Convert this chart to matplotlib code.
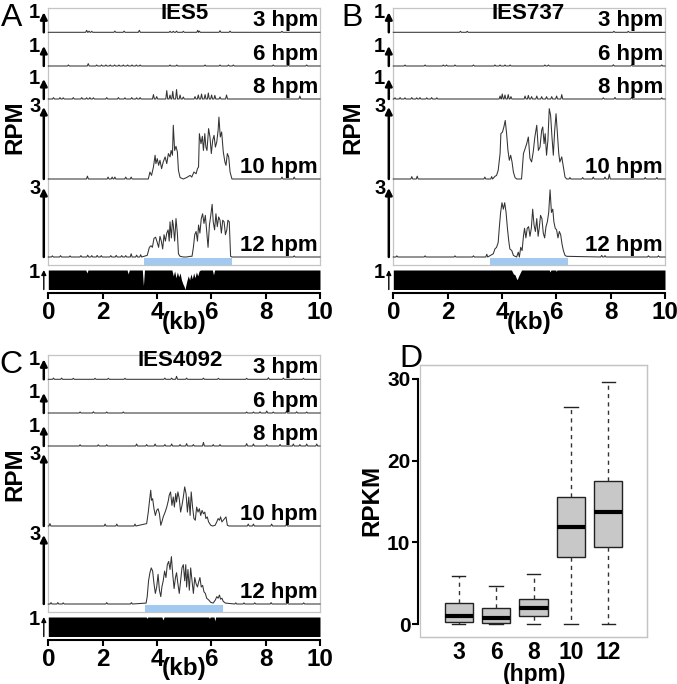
import matplotlib
matplotlib.use('Agg')
import matplotlib.pyplot as plt
from matplotlib.patches import Rectangle

plt.rcParams['font.family'] = ['Liberation Sans', 'DejaVu Sans']

# ---------------- data ----------------
TIMEPOINTS = ['3 hpm', '6 hpm', '8 hpm', '10 hpm', '12 hpm']
SCALE_VALUES = [1, 1, 1, 3, 3]
KB_TICKS = [0, 2, 4, 6, 8, 10]

# ---- IES5 (panel A) ----
A_name = 'IES5'
A_bar = (3.53, 6.75)
A10_x = [3.68, 3.74, 3.80, 3.87, 3.93, 3.96, 4.01, 4.06, 4.11, 4.17, 4.23, 4.30, 4.36, 4.42, 4.48,
         4.52, 4.57, 4.60, 4.65, 4.70, 4.75, 4.79, 4.85, 4.97, 5.09, 5.22, 5.28, 5.36, 5.44, 5.49,
         5.53, 5.56, 5.62, 5.67, 5.71, 5.76, 5.80, 5.84, 5.90, 5.95, 6.00, 6.05, 6.10, 6.15, 6.20,
         6.25, 6.28, 6.33, 6.38, 6.44, 6.50, 6.54, 6.59, 6.64, 6.69, 6.76]
A10_y = [0, 0.29, 0.15, 0.50, 0.99, 0.64, 0.85, 0.57, 0.78, 0.43, 0.71, 0.92, 0.64, 1.06, 0.92,
         1.19, 0.99, 2.24, 1.19, 1.36, 1.13, 0.36, 0.06, 0, 0.06, 0.15, 0.08, 0.29, 0.22, 0.43,
         0.50, 1.89, 1.47, 1.78, 1.19, 1.89, 1.33, 1.19, 2.10, 1.75, 1.06, 1.61, 1.82, 1.33, 1.54,
         2.03, 2.58, 1.75, 1.96, 1.13, 0.71, 0.57, 1.06, 0.92, 0.29, 0]
A12_x = [3.64, 3.72, 3.78, 3.83, 3.89, 3.95, 4.01, 4.06, 4.11, 4.16, 4.21, 4.26, 4.31, 4.36, 4.41,
         4.45, 4.48, 4.53, 4.57, 4.60, 4.65, 4.70, 4.75, 4.79, 4.85, 4.97, 5.09, 5.22, 5.29, 5.34,
         5.39, 5.44, 5.49, 5.53, 5.58, 5.63, 5.68, 5.73, 5.78, 5.83, 5.88, 5.93, 5.98, 6.03, 6.07,
         6.12, 6.17, 6.22, 6.27, 6.32, 6.37, 6.42, 6.47, 6.52, 6.57, 6.61, 6.66, 6.71, 6.76]
A12_y = [0.07, 0.42, 0.49, 0.42, 0.81, 0.86, 0.63, 0.42, 0.90, 0.69, 0.35, 0.97, 0.69, 1.04, 1.18,
         0.69, 1.53, 0.83, 1.60, 1.39, 0.69, 1.67, 1.04, 0.14, 0.03, 0, 0, 0.03, 0.03, 0.42,
         0.97, 1.11, 0.69, 1.39, 1.04, 1.67, 1.88, 1.46, 1.81, 1.11, 0.42, 1.39, 1.81, 2.29, 1.53,
         1.18, 1.88, 1.32, 1.74, 1.60, 1.04, 1.60, 1.53, 0.97, 1.18, 1.60, 1.53, 0.03, 0]
A3_sx = [1.41, 1.50, 1.60, 2.45, 2.79, 3.35, 4.48, 4.60, 4.72, 4.97, 5.50, 5.56, 6.32, 6.69, 8.60]
A3_sh = [0.10, 0.06, 0.05, 0.06, 0.06, 0.10, 0.05, 0.05, 0.06, 0.05, 0.10, 0.06, 0.08, 0.06, 0.05]
A6_sx = [0.74, 1.47, 1.78, 1.96, 2.12, 2.28, 2.44, 2.60, 2.76, 2.92, 3.08, 3.24, 3.38, 4.48, 4.73,
         5.77, 6.32, 6.63, 6.81, 8.28, 8.83, 9.51]
A6_sh = [0.05, 0.12, 0.05, 0.05, 0.05, 0.05, 0.05, 0.05, 0.05, 0.05, 0.05, 0.05, 0.05, 0.05, 0.05,
         0.05, 0.05, 0.05, 0.05, 0.05, 0.05, 0.05]
A8_sx = [0.19, 0.43, 0.55, 0.92, 1.23, 1.41, 1.53, 1.66, 2.15, 2.58, 2.82, 3.07, 3.25, 3.38, 3.87,
         3.99, 4.36, 4.48, 4.58, 4.72, 4.85, 4.97, 5.40, 5.52, 5.64, 5.77, 5.89, 6.01, 6.13, 6.32,
         6.56, 9.26]
A8_sh = [0.07, 0.07, 0.06, 0.07, 0.07, 0.06, 0.07, 0.06, 0.07, 0.07, 0.06, 0.07, 0.06, 0.07, 0.22,
         0.12, 0.42, 0.20, 0.38, 0.47, 0.20, 0.10, 0.12, 0.20, 0.25, 0.22, 0.30, 0.20, 0.18, 0.10,
         0.20, 0.15]
A10_sx = [1.44, 2.20, 2.35, 2.45, 2.85, 3.05, 8.60, 9.05]
A10_sh = [0.12, 0.08, 0.08, 0.08, 0.08, 0.08, 0.08, 0.08]
A12_sx = [0.15, 0.45, 0.80, 1.20, 1.45, 1.60, 1.80, 1.95, 2.30, 2.50, 2.70, 2.85, 3.05, 3.25, 3.40, 9.05]
A12_sh = [0.05, 0.06, 0.05, 0.06, 0.08, 0.06, 0.07, 0.06, 0.06, 0.07, 0.06, 0.06, 0.14, 0.08, 0.10, 0.05]
A_map_x = [0, 1.38, 1.42, 1.46, 2.90, 2.94, 2.98, 3.46, 3.50, 3.54, 4.55, 4.60, 4.65, 4.70, 4.75,
           4.80, 4.85, 4.90, 4.95, 5.00, 5.03, 5.06, 5.10, 5.15, 5.20, 5.25, 5.30, 5.35, 5.40, 5.45,
           5.50, 5.55, 5.60, 6.04, 6.08, 6.12, 10]
A_map_y = [1, 1, 0.85, 1, 1, 0.80, 1, 1, 0.20, 1, 1, 0.70, 0.95, 0.60, 0.90,
           0.65, 0.85, 0.50, 0.30, 0.15, 0, 0.20, 0.45, 0.70, 0.50, 0.80, 0.55, 0.85, 0.60, 0.90,
           0.70, 0.95, 1, 1, 0.75, 1, 1]

# ---- IES737 (panel B) ----
B_name = 'IES737'
B_bar = (3.56, 6.43)
B10_x = [3.74, 3.80, 3.86, 3.93, 3.96, 4.02, 4.07, 4.12, 4.17, 4.22, 4.27, 4.32, 4.37, 4.42, 4.48,
         4.54, 4.72, 4.79, 4.85, 4.91, 4.97, 5.03, 5.09, 5.15, 5.21, 5.28, 5.34, 5.40, 5.46, 5.50,
         5.55, 5.59, 5.64, 5.69, 5.74, 5.79, 5.84, 5.89, 5.94, 5.99, 6.04, 6.09, 6.13, 6.20, 6.26,
         6.32, 6.38]
B10_y = [0.11, 0.15, 0.36, 1.06, 1.89, 1.96, 2.17, 2.44, 1.89, 1.19, 0.78, 0.99, 0.71, 0.29, 0.06,
         0, 0, 1.06, 1.26, 1.47, 1.75, 0.85, 0.71, 1.13, 1.75, 2.24, 1.19, 1.33, 2.03, 2.17,
         1.47, 1.89, 0.99, 1.61, 2.93, 2.65, 1.75, 0.99, 2.03, 2.72, 1.89, 1.06, 0.71, 0.92, 0.50,
         0.08, 0]
B12_x = [3.68, 3.74, 3.80, 3.86, 3.90, 3.95, 4.00, 4.05, 4.10, 4.15, 4.20, 4.25, 4.29, 4.36, 4.42,
         4.48, 4.54, 4.60, 4.64, 4.69, 4.74, 4.79, 4.83, 4.88, 4.93, 4.98, 5.03, 5.08, 5.13, 5.18,
         5.23, 5.28, 5.33, 5.37, 5.42, 5.47, 5.52, 5.57, 5.62, 5.67, 5.72, 5.77, 5.82, 5.87, 5.91,
         5.96, 6.01, 6.06, 6.11, 6.16, 6.21, 6.26, 6.32, 6.38]
B12_y = [0.14, 0.35, 0.42, 0.63, 1.25, 1.94, 2.36, 2.08, 2.36, 1.94, 1.25, 0.69, 0.35, 0.28, 0.07,
         0.03, 0, 0.21, 0, 0.42, 0.28, 0.90, 1.25, 0.83, 1.25, 1.32, 0.90, 1.25, 2.08, 1.39,
         1.11, 1.67, 0.90, 1.25, 1.81, 1.67, 1.04, 0.83, 1.32, 1.53, 1.94, 2.92, 1.94, 2.08, 1.53,
         1.25, 1.18, 0.83, 1.11, 0.97, 0.56, 0.28, 0.07, 0.03]
B3_sx = [2.47, 2.72, 8.12, 8.65]
B3_sh = [0.05, 0.05, 0.05, 0.05]
B6_sx = [0.43, 1.17, 1.84, 1.96, 2.27, 2.95, 3.74, 3.93, 4.11, 4.30, 5.58, 5.71, 8.10, 8.77, 9.88]
B6_sh = [0.05, 0.05, 0.05, 0.05, 0.05, 0.05, 0.05, 0.05, 0.05, 0.05, 0.05, 0.05, 0.06, 0.05, 0.05]
B8_sx = [0.06, 0.25, 0.43, 0.68, 0.86, 0.98, 1.23, 1.41, 1.60, 3.93, 4.01, 4.11, 4.23, 4.33, 4.85,
         4.97, 5.09, 5.28, 5.46, 5.64, 5.83, 6.01, 6.20, 7.73, 8.16, 8.77, 9.88]
B8_sh = [0.06, 0.07, 0.06, 0.07, 0.06, 0.07, 0.06, 0.07, 0.06, 0.15, 0.25, 0.20, 0.22, 0.12, 0.15,
         0.18, 0.12, 0.15, 0.12, 0.12, 0.12, 0.15, 0.22, 0.06, 0.08, 0.08, 0.06]
B10_sx = [0.68, 0.88, 3.37, 3.62, 6.50, 6.97, 7.36, 7.79, 7.95, 9.27, 9.70]
B10_sh = [0.10, 0.12, 0.08, 0.10, 0.06, 0.06, 0.08, 0.08, 0.20, 0.06, 0.06]
B12_sx = [0.13, 1.17, 2.27, 2.95, 3.44, 7.67, 7.79, 9.39, 9.76]
B12_sh = [0.05, 0.05, 0.05, 0.05, 0.12, 0.07, 0.06, 0.05, 0.05]
B_map_x = [0, 4.35, 4.42, 4.48, 4.52, 4.56, 4.60, 4.65, 4.72, 5.74, 5.77, 5.80, 5.98, 6.00, 6.02, 10]
B_map_y = [1, 1, 0.80, 0.75, 0.60, 0.50, 0.65, 0.80, 1, 1, 0.90, 1, 1, 0.92, 1, 1]

# ---- IES4092 (panel C) ----
C_name = 'IES4092'
C_bar = (3.56, 6.44)
C10_x = [3.62, 3.68, 3.72, 3.77, 3.80, 3.84, 3.89, 3.94, 3.99, 4.04, 4.09, 4.14, 4.18, 4.23, 4.30,
         4.36, 4.42, 4.45, 4.50, 4.55, 4.60, 4.64, 4.69, 4.72, 4.77, 4.82, 4.87, 4.92, 4.97, 5.02,
         5.07, 5.12, 5.17, 5.22, 5.26, 5.31, 5.36, 5.41, 5.46, 5.51, 5.56, 5.61, 5.66, 5.71, 5.76,
         5.80, 5.85, 5.90, 5.98, 6.05, 6.14, 6.20, 6.25, 6.30, 6.34, 6.39, 6.44, 6.49, 6.54, 6.59,
         6.66]
C10_y = [0.10, 0.58, 1.00, 1.49, 1.07, 1.14, 0.72, 0.44, 0.65, 0.72, 0.51, 0.03, 0.17, 0.38, 0.58,
         0.79, 1.07, 1.28, 1.42, 0.86, 1.21, 0.79, 1.35, 1.00, 1.42, 1.14, 0.58, 0.86, 1.21, 1.63,
         1.35, 0.58, 1.21, 0.44, 1.42, 0.79, 0.31, 0.24, 0.79, 0.58, 0.72, 0.44, 0.65, 0.51, 0.58,
         0.31, 0.38, 0.17, 0.03, 0, 0.03, 0.17, 0.31, 0.24, 0.38, 0.17, 0.24, 0.31, 0.38, 0.03,
         0]
C12_x = [3.60, 3.64, 3.69, 3.74, 3.79, 3.84, 3.89, 3.94, 3.99, 4.04, 4.09, 4.14, 4.18, 4.23, 4.28,
         4.33, 4.38, 4.43, 4.48, 4.53, 4.58, 4.63, 4.68, 4.72, 4.77, 4.82, 4.87, 4.92, 4.97, 5.02,
         5.06, 5.09, 5.14, 5.19, 5.24, 5.29, 5.34, 5.39, 5.44, 5.49, 5.53, 5.58, 5.63, 5.68, 5.73,
         5.78, 5.83, 5.90, 5.98, 6.07, 6.15, 6.20, 6.25, 6.30, 6.34, 6.39, 6.44, 6.52]
C12_y = [0.04, 0.32, 1.01, 1.36, 1.57, 1.43, 0.88, 0.46, 0.74, 1.29, 0.60, 0.32, 0.74, 1.01, 1.43,
         1.15, 1.71, 1.85, 1.50, 2.06, 1.29, 0.67, 1.15, 1.36, 0.88, 0.46, 1.01, 1.57, 1.71, 1.01,
         1.71, 0.74, 1.50, 0.60, 1.57, 1.01, 0.46, 1.15, 0.88, 0.74, 0.94, 1.15, 0.74, 0.81, 0.53,
         0.46, 0.25, 0.18, 0.07, 0.04, 0.18, 0.32, 0.25, 0.39, 0.21, 0.25, 0.11, 0.04]
C3_sx = [0.19, 0.49, 0.92, 1.72, 2.21, 2.82, 4.29, 4.54, 4.72, 5.09, 5.71, 6.26, 7.30, 8.10, 8.65, 9.39]
C3_sh = [0.06, 0.06, 0.05, 0.05, 0.05, 0.05, 0.06, 0.06, 0.15, 0.06, 0.06, 0.05, 0.05, 0.08, 0.06, 0.05]
C6_sx = [1.17, 1.66, 2.15, 2.76, 7.30, 7.55, 7.79, 8.04, 8.28, 8.77, 9.14, 9.51]
C6_sh = [0.05, 0.06, 0.05, 0.05, 0.05, 0.05, 0.06, 0.10, 0.05, 0.10, 0.06, 0.05]
C8_sx = [1.17, 1.84, 2.15, 3.25, 3.62, 3.93, 4.29, 4.54, 4.85, 5.09, 5.34, 5.71, 6.07, 6.32, 7.30,
         7.55, 8.04, 8.53, 9.02, 9.26, 9.51, 9.88]
C8_sh = [0.06, 0.06, 0.06, 0.10, 0.07, 0.10, 0.07, 0.10, 0.07, 0.12, 0.07, 0.18, 0.07, 0.07, 0.12,
         0.10, 0.07, 0.08, 0.10, 0.07, 0.10, 0.10]
C10_sx = [0.06, 2.09, 2.52, 3.19, 7.36, 7.55, 8.22, 8.77]
C10_sh = [0.10, 0.08, 0.08, 0.08, 0.08, 0.08, 0.08, 0.08]
C12_sx = [0.10, 0.35, 0.55, 2.15, 3.06, 6.90, 7.20, 7.60, 8.20, 8.80, 9.40]
C12_sh = [0.06, 0.06, 0.05, 0.06, 0.06, 0.05, 0.05, 0.05, 0.06, 0.05, 0.05]
C_map_x = [0, 3.60, 3.63, 3.66, 4.18, 4.22, 4.26, 5.90, 5.93, 5.96, 6.10, 6.13, 6.16, 10]
C_map_y = [1, 1, 0.93, 1, 1, 0.85, 1, 1, 0.93, 1, 1, 0.80, 1, 1]

# ---- panel D: RPKM box plot ----
D_hpm = ['3', '6', '8', '10', '12']
D_whislo = [0, 0, 0, 0, 0]
D_q1 = [0.29, 0.16, 1.02, 8.17, 9.40]
D_med = [0.94, 0.69, 1.92, 11.93, 13.77]
D_q3 = [2.53, 2.00, 3.10, 15.57, 17.49]
D_whishi = [5.93, 4.70, 6.13, 26.56, 29.59]
D_yticks = [0, 10, 20, 30]

# ---------------- figure ----------------
W, H = 677, 684
fig = plt.figure(figsize=(W / 100, H / 100), dpi=100)


def add_ax(l, t, r, b, **kw):
    return fig.add_axes([l / W, 1 - b / H, (r - l) / W, (b - t) / H], **kw)


def trace(px, py, sx, sh):
    pts = [(0.0, 0.0), (10.0, 0.0)] + list(zip(px, py))
    for x, h in zip(sx, sh):
        pts += [(x - 0.035, 0.0), (x, h), (x + 0.035, 0.0)]
    pts.sort()
    xs, ys = zip(*pts)
    return xs, ys


ROW_TOP = [8, 33, 67, 100, 180]
ROW_BASE = [32.3, 66, 99, 179, 257]
UNIT_PX = [20, 20, 20, 24, 23]
LINE_C = '#333333'
FRAME_C = '#c4c4c4'
BOLD = 'bold'
FS_TRACK = 16
FS_SCALE = 14.5
FS_TICK = 17.5
FS_AXLAB = 17.5
FS_LETTER = 23

panels = [
    dict(letter='A', name=A_name, left=48.3, right=320, dy=0, bar=A_bar,
         peaks=[None, None, None, (A10_x, A10_y), (A12_x, A12_y)],
         spikes=[(A3_sx, A3_sh), (A6_sx, A6_sh), (A8_sx, A8_sh), (A10_sx, A10_sh), (A12_sx, A12_sh)],
         mapx=A_map_x, mapy=A_map_y, lx=1, rpmx=15, namex=5.0),
    dict(letter='B', name=B_name, left=393.3, right=665, dy=0, bar=B_bar,
         peaks=[None, None, None, (B10_x, B10_y), (B12_x, B12_y)],
         spikes=[(B3_sx, B3_sh), (B6_sx, B6_sh), (B8_sx, B8_sh), (B10_sx, B10_sh), (B12_sx, B12_sh)],
         mapx=B_map_x, mapy=B_map_y, lx=341, rpmx=353, namex=4.95),
    dict(letter='C', name=C_name, left=48.3, right=320, dy=347, bar=C_bar,
         peaks=[None, None, None, (C10_x, C10_y), (C12_x, C12_y)],
         spikes=[(C3_sx, C3_sh), (C6_sx, C6_sh), (C8_sx, C8_sh), (C10_sx, C10_sh), (C12_sx, C12_sh)],
         mapx=C_map_x, mapy=C_map_y, lx=-1, rpmx=15, namex=4.85),
]

for p in panels:
    L, R, dy = p['left'], p['right'], p['dy']
    wpx = R - L
    # light frame
    fr = add_ax(L, 8 + dy, R, 265 + dy)
    fr.set_xticks([]); fr.set_yticks([])
    for s in fr.spines.values():
        s.set_color(FRAME_C); s.set_linewidth(0.9)
    fr.set_zorder(0)
    # blue bar
    bax = add_ax(L, 258 + dy, R, 265 + dy)
    bax.set_xlim(0, 10); bax.set_ylim(0, 1); bax.axis('off')
    bax.axvspan(p['bar'][0], p['bar'][1], color='#a2c9ef', lw=0)
    # tracks
    for i in range(5):
        top, base, unit = ROW_TOP[i], ROW_BASE[i], UNIT_PX[i]
        ax = add_ax(L, top + dy, R, base + dy)
        ax.set_xlim(0, 10); ax.set_ylim(0, (base - top) / unit)
        ax.axis('off')
        pk = p['peaks'][i] if p['peaks'][i] is not None else ([], [])
        xs, ys = trace(pk[0], pk[1], p['spikes'][i][0], p['spikes'][i][1])
        ax.plot(xs, ys, color=LINE_C, lw=0.75, clip_on=False)
        tr = ax.get_yaxis_transform()
        sv = SCALE_VALUES[i]
        ax.annotate('', xy=(-4.5 / wpx, sv), xytext=(-4.5 / wpx, 0), xycoords=tr, textcoords=tr,
                    arrowprops=dict(arrowstyle='-|>', color='black', lw=1.8, shrinkA=0, shrinkB=0,
                                    mutation_scale=10), annotation_clip=False)
        ax.text(-8.0 / wpx, sv, str(sv), transform=tr, ha='right', va='center',
                fontsize=FS_SCALE, fontweight=BOLD)
        fig.text((R - 2) / W, 1 - (base - 6 + dy) / H, TIMEPOINTS[i], ha='right', va='baseline',
                 fontsize=FS_TRACK, fontweight=BOLD)
    # gene name
    fig.text((L + p['namex'] * wpx / 10) / W, 1 - (19 + dy) / H, p['name'], ha='center',
             va='baseline', fontsize=FS_TRACK, fontweight=BOLD)
    # RPM
    fig.text(p['rpmx'] / W, 1 - (127 + dy) / H, 'RPM', rotation=90, ha='center', va='center',
             fontsize=FS_AXLAB, fontweight=BOLD)
    # panel letter
    fig.text(p['lx'] / W, 1 - (25.5 + dy) / H, p['letter'], ha='left', va='baseline',
             fontsize=FS_LETTER)
    # mappability
    m = add_ax(L, 270 + dy, R, 289.5 + dy)
    m.set_xlim(0, 10); m.set_ylim(0, 1)
    m.fill_between(p['mapx'], 0, p['mapy'], color='black', lw=0)
    m.set_facecolor('none')
    for s in ['top', 'right', 'left']:
        m.spines[s].set_visible(False)
    m.spines['bottom'].set_position(('outward', 2.6))
    m.spines['bottom'].set_linewidth(1.5)
    m.set_yticks([])
    m.set_xticks(KB_TICKS)
    m.set_xticklabels([str(t) for t in KB_TICKS], fontsize=FS_TICK, fontweight=BOLD)
    m.tick_params(axis='x', length=4, width=1.5, pad=2)
    tr = m.get_yaxis_transform()
    m.annotate('', xy=(-4.5 / wpx, 1), xytext=(-4.5 / wpx, 0), xycoords=tr, textcoords=tr,
               arrowprops=dict(arrowstyle='-|>', color='black', lw=1.0, shrinkA=0, shrinkB=0,
                               mutation_scale=7), annotation_clip=False)
    m.text(-8.0 / wpx, 0.85, '1', transform=tr, ha='right', va='center', fontsize=FS_SCALE,
           fontweight=BOLD)
    fig.text((L + 5 * wpx / 10) / W, 1 - (322 + dy) / H, '(kb)', ha='center', va='center',
             fontsize=FS_AXLAB, fontweight=BOLD)

# ---------------- panel D ----------------
dax = add_ax(420, 365, 647, 637)
dax.set_xlim(-0.03, 6.03)
dax.set_ylim(-1.59, 31.71)
stats = []
for i in range(5):
    stats.append(dict(med=D_med[i], q1=D_q1[i], q3=D_q3[i], whislo=D_whislo[i],
                      whishi=D_whishi[i], fliers=[], label=D_hpm[i]))
dax.bxp(stats, positions=[1, 2, 3, 4, 5], widths=0.75, capwidths=0.36, showfliers=False,
        patch_artist=True,
        boxprops=dict(facecolor='#c8c8c8', edgecolor='#222222', linewidth=1.0),
        medianprops=dict(color='black', linewidth=3.0),
        whiskerprops=dict(color='#333333', linewidth=1.0, linestyle=(0, (3, 3))),
        capprops=dict(color='#222222', linewidth=1.0))
for s in ['top', 'right', 'bottom']:
    dax.spines[s].set_color(FRAME_C); dax.spines[s].set_linewidth(0.9)
dax.add_patch(Rectangle((0, 0), 1, 1, transform=dax.transAxes, fill=False, edgecolor=FRAME_C,
                        lw=0.9, clip_on=False))
dax.spines['left'].set_color('black')
dax.spines['left'].set_linewidth(1.5)
dax.spines['left'].set_bounds(0, 30)
dax.spines['left'].set_position(('outward', 1.5))
dax.set_yticks(D_yticks)
dax.set_yticklabels([str(t) for t in D_yticks], fontsize=15, fontweight=BOLD)
dax.tick_params(axis='y', length=4, width=1.5, pad=1.5)
dax.set_xticks([1, 2, 3, 4, 5])
dax.set_xticklabels(D_hpm, fontsize=16.5, fontweight=BOLD)
dax.tick_params(axis='x', length=0, pad=3)
fig.text(372 / W, 1 - 500 / H, 'RPKM', rotation=90, ha='center', va='center', fontsize=FS_AXLAB,
         fontweight=BOLD)
fig.text(535 / W, 1 - 674 / H, '(hpm)', ha='center', va='center', fontsize=16.5,
         fontweight=BOLD)
fig.text(399 / W, 1 - 367 / H, 'D', ha='left', va='baseline', fontsize=FS_LETTER)

fig.savefig('out.png', dpi=100)
